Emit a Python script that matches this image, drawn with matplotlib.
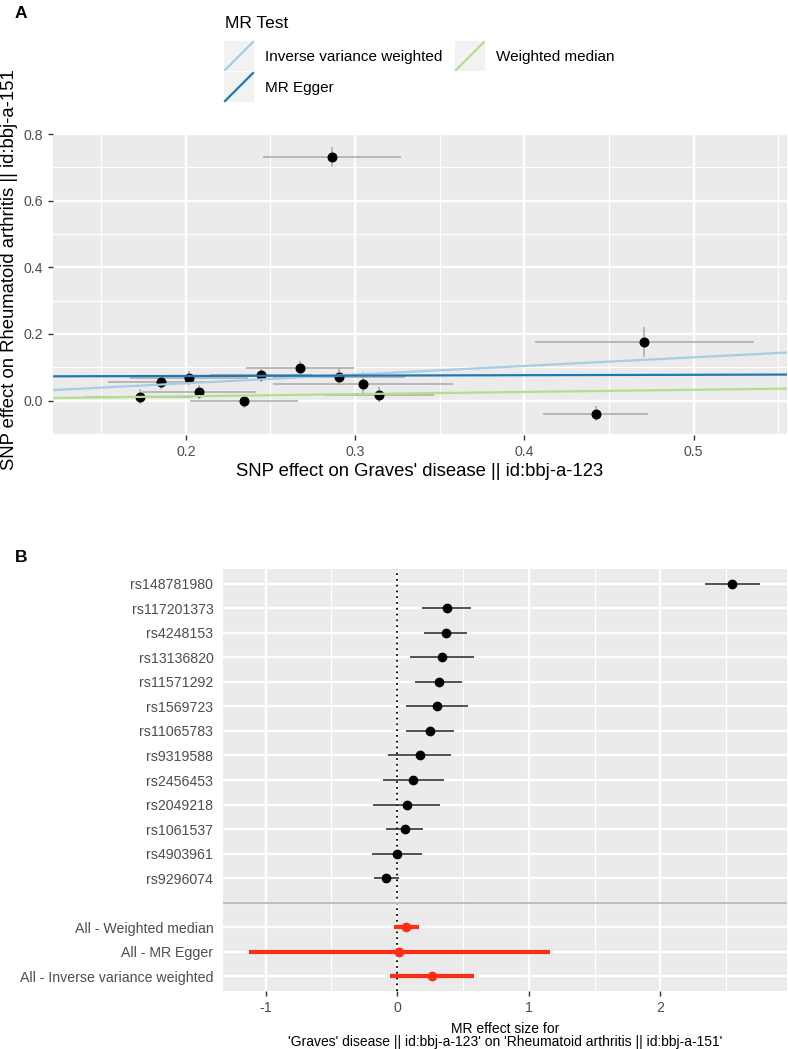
import matplotlib
matplotlib.use("Agg")
import matplotlib.pyplot as plt
from matplotlib.lines import Line2D
from matplotlib.patches import Rectangle
import numpy as np

plt.rcParams["font.family"] = ["Liberation Sans", "DejaVu Sans"]

# ---- panel A: scatter of SNP effects ----
snp_bx = [0.1728, 0.1856, 0.2020, 0.2077, 0.2343, 0.2446, 0.2673,
          0.2864, 0.2905, 0.3047, 0.3144, 0.4708, 0.4422]
snp_by = [0.012, 0.055, 0.068, 0.026, -0.002, 0.076, 0.097,
          0.732, 0.072, 0.050, 0.018, 0.176, -0.039]
snp_bx_se = [0.0315, 0.0316, 0.035, 0.0335, 0.032, 0.030, 0.032,
             0.041, 0.039, 0.053, 0.032, 0.0646, 0.031]
snp_by_se = [0.022, 0.020, 0.022, 0.022, 0.020, 0.020, 0.022,
             0.030, 0.025, 0.035, 0.022, 0.044, 0.023]

methods = ["Inverse variance weighted", "MR Egger", "Weighted median"]
method_intercept = [0.0, 0.0715, 0.0]
method_slope = [0.26, 0.012, 0.065]
method_colors = ["#A6CEE3", "#1F78B4", "#B2DF8A"]

# ---- panel B: forest plot ----
snp_names = ["rs148781980", "rs117201373", "rs4248153", "rs13136820",
             "rs11571292", "rs1569723", "rs11065783", "rs9319588",
             "rs2456453", "rs2049218", "rs1061537", "rs4903961", "rs9296074"]
snp_b = [2.545, 0.378, 0.368, 0.340, 0.315, 0.302, 0.249, 0.171,
         0.123, 0.072, 0.057, -0.001, -0.082]
snp_lo = [2.337, 0.191, 0.204, 0.100, 0.135, 0.067, 0.067, -0.070,
          -0.108, -0.184, -0.082, -0.188, -0.176]
snp_hi = [2.758, 0.563, 0.533, 0.586, 0.495, 0.540, 0.434, 0.410,
          0.358, 0.328, 0.199, 0.188, 0.011]

all_names = ["All - Weighted median", "All - MR Egger",
             "All - Inverse variance weighted"]
all_b = [0.069, 0.014, 0.265]
all_lo = [-0.026, -1.128, -0.057]
all_hi = [0.166, 1.158, 0.586]

W, H = 788, 1049
BG = "#EBEBEB"
TICK_C = "#4D4D4D"

fig = plt.figure(figsize=(W / 100, H / 100), dpi=100)


def style_axes(ax):
    ax.set_facecolor(BG)
    for s in ax.spines.values():
        s.set_visible(False)
    ax.tick_params(colors="#333333", labelcolor=TICK_C, labelsize=10.2,
                   length=3.5, width=1.0)
    ax.grid(True, which="major", color="white", lw=1.7, zorder=0)
    ax.grid(True, which="minor", color="white", lw=0.85, zorder=0)
    ax.set_axisbelow(True)


# panel A
axA = fig.add_axes([53 / W, 1 - 435 / H, (787 - 53) / W, (435 - 133) / H])
style_axes(axA)
bx = np.array(snp_bx)
by = np.array(snp_by)
xmin, xmax = (bx - snp_bx_se).min(), (bx + snp_bx_se).max()
ymin, ymax = (by - snp_by_se).min(), (by + snp_by_se).max()
xr, yr = xmax - xmin, ymax - ymin
axA.set_xlim(xmin - 0.05 * xr, xmax + 0.05 * xr)
axA.set_ylim(ymin - 0.05 * yr, ymax + 0.05 * yr)

axA.errorbar(bx, by, yerr=snp_by_se, fmt="none", ecolor="#B3B3B3",
             elinewidth=1.3, capsize=0, zorder=2)
axA.errorbar(bx, by, xerr=snp_bx_se, fmt="none", ecolor="#B3B3B3",
             elinewidth=1.3, capsize=0, zorder=2)
axA.plot(bx, by, "o", color="black", ms=6.2, zorder=3)
for a, b, c in zip(method_intercept, method_slope, method_colors):
    axA.axline((0, a), slope=b, color=c, lw=1.6, zorder=4)

axA.set_xticks([0.2, 0.3, 0.4, 0.5])
axA.set_xticks([0.15, 0.25, 0.35, 0.45, 0.55], minor=True)
axA.set_yticks([0.0, 0.2, 0.4, 0.6, 0.8])
axA.set_yticks([-0.1, 0.1, 0.3, 0.5, 0.7], minor=True)
axA.tick_params(which="minor", length=0)
axA.set_xticklabels(["0.2", "0.3", "0.4", "0.5"])
axA.set_yticklabels(["0.0", "0.2", "0.4", "0.6", "0.8"])
axA.set_xlabel("SNP effect on Graves' disease || id:bbj-a-123",
               fontsize=13.3, labelpad=3)
axA.set_ylabel("SNP effect on Rheumatoid arthritis || id:bbj-a-151",
               fontsize=13.3, labelpad=3)
axA.yaxis.set_label_coords(-0.048, 0.546)

# legend for panel A (ggplot-style abline keys)
fig.text(225 / W, 1 - 24 / H, "MR Test", fontsize=12.5, va="center",
         ha="left")
key_pos = [(224, 41), (224, 72), (455, 41)]
for (kx, ky), name, c in zip(key_pos, methods, method_colors):
    fig.patches.append(Rectangle((kx / W, 1 - (ky + 30) / H), 30 / W, 30 / H,
                                 transform=fig.transFigure,
                                 facecolor="#F2F2F2", edgecolor="none"))
    fig.lines.append(Line2D([(kx + 1) / W, (kx + 29) / W],
                            [1 - (ky + 29) / H, 1 - (ky + 1) / H],
                            transform=fig.transFigure, color=c, lw=1.6))
    fig.text((kx + 41) / W, 1 - (ky + 16) / H, name, fontsize=11.0,
             va="center", ha="left")

# panel B
axB = fig.add_axes([223 / W, 1 - 991 / H, (787 - 223) / W, (991 - 569) / H])
style_axes(axB)
n = len(snp_names)
y_snp = np.arange(n)
y_sep = n
y_all = np.arange(len(all_names)) + n + 1
axB.set_ylim(y_all[-1] + 0.6, -0.6)
axB.set_xlim(-1.323, 2.961)

axB.axvline(0, color="black", lw=1.3, ls=(0, (1, 2.2)), zorder=2)
axB.axhline(y_sep, color="#BEBEBE", lw=1.4, zorder=2)
axB.hlines(y_snp, snp_lo, snp_hi, color="#333333", lw=1.2, zorder=3)
axB.plot(snp_b, y_snp, "o", color="black", ms=6, zorder=4)
axB.hlines(y_all, all_lo, all_hi, color="#FF2D14", lw=3.0, zorder=3)
axB.plot(all_b, y_all, "o", color="#FF2D14", ms=6, zorder=4)

axB.set_yticks(list(y_snp) + [y_sep] + list(y_all))
axB.set_yticklabels(snp_names + [""] + all_names)
axB.tick_params(axis="y", length=0, pad=7)
axB.set_xticks([-1, 0, 1, 2])
axB.set_xticks([-0.5, 0.5, 1.5, 2.5], minor=True)
axB.tick_params(which="minor", length=0)
axB.set_xticklabels(["-1", "0", "1", "2"])
axB.set_xlabel("MR effect size for\n'Graves' disease || id:bbj-a-123' on "
               "'Rheumatoid arthritis || id:bbj-a-151'",
               fontsize=10.0, labelpad=5, linespacing=0.95)

fig.text(15 / W, 1 - 13 / H, "A", fontsize=12.5, fontweight="bold",
         va="center", ha="left")
fig.text(15 / W, 1 - 558 / H, "B", fontsize=12.5, fontweight="bold",
         va="center", ha="left")

fig.savefig("out.png", dpi=100)
